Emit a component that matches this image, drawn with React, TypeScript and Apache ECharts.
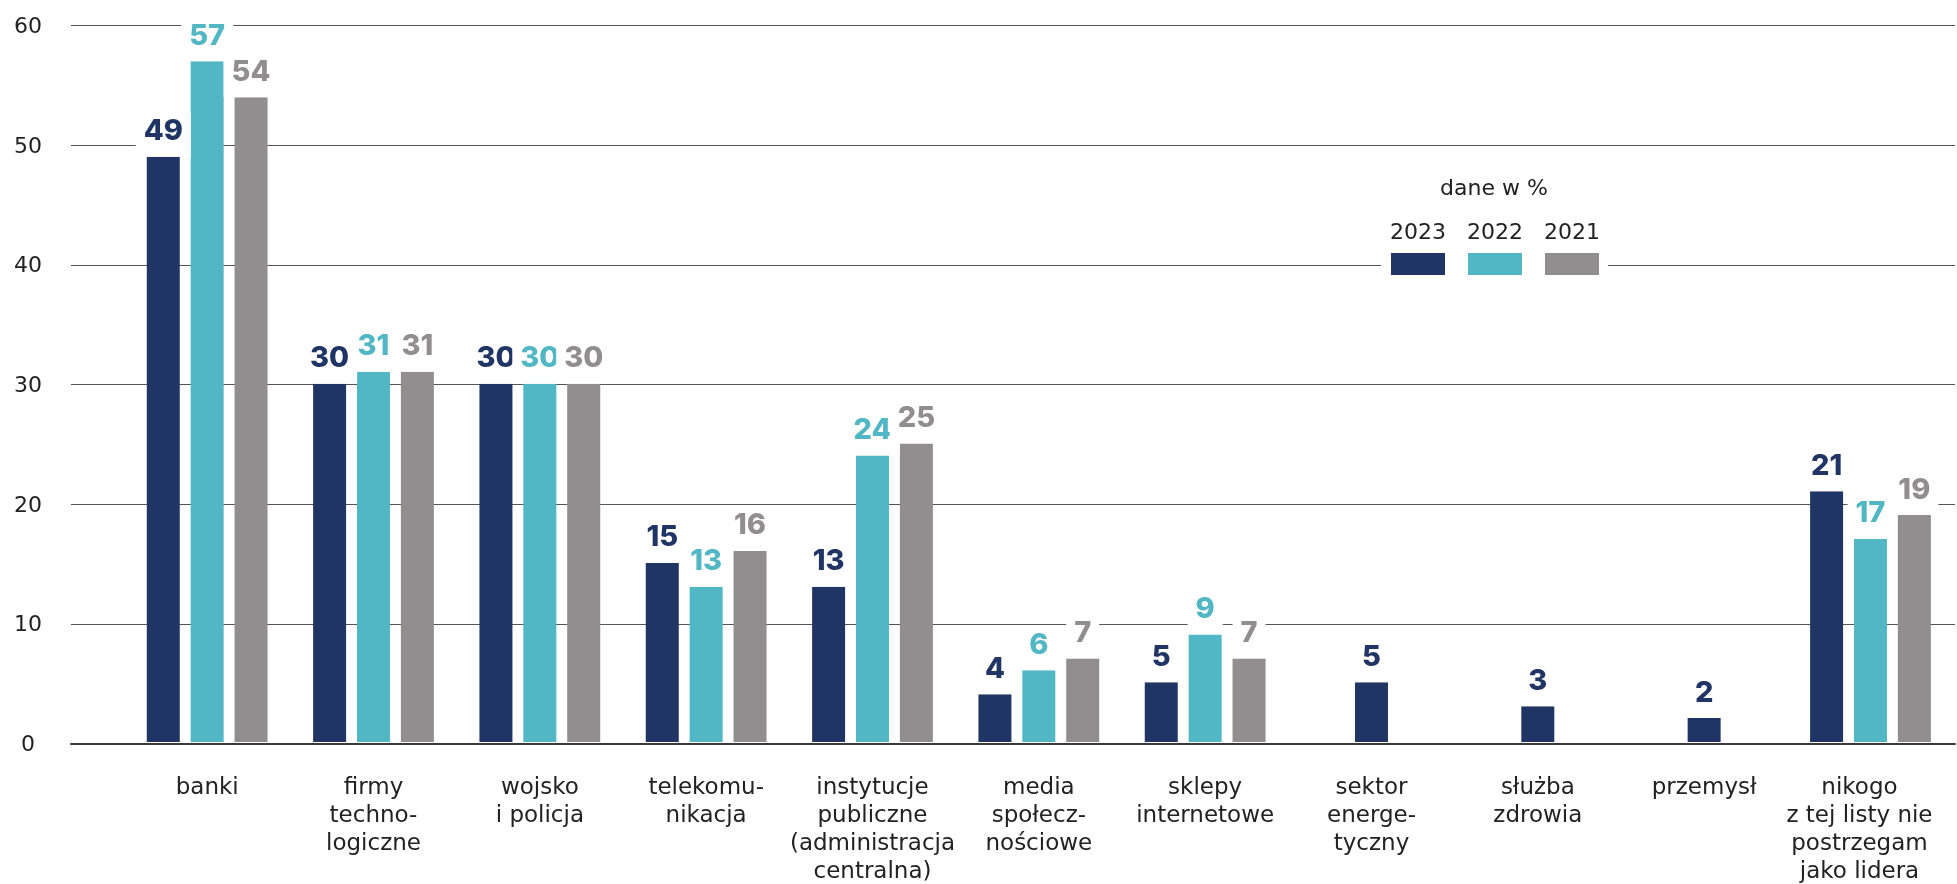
import React, { useEffect, useRef } from "react";
import * as echarts from "echarts";

const categories = [
  "banki",
  "firmy\ntechno-\nlogiczne",
  "wojsko\ni policja",
  "telekomu-\nnikacja",
  "instytucje\npubliczne\n(administracja\ncentralna)",
  "media\nspołecz-\nnościowe",
  "sklepy\ninternetowe",
  "sektor\nenerge-\ntyczny",
  "służba\nzdrowia",
  "przemysł",
  "nikogo\nz tej listy nie\npostrzegam\njako lidera",
];
const v2023 = [49, 30, 30, 15, 13, 4, 5, null, null, null, 21];
const v2023solo = [null, null, null, null, null, null, null, 5, 3, 2, null];
const v2022 = [57, 31, 30, 13, 24, 6, 9, null, null, null, 17];
const v2021 = [54, 31, 30, 16, 25, 7, 7, null, null, null, 19];
const years = ["2023", "2022", "2021"];
const colors = ["#213564", "#52B7C4", "#918E8F"];
const yMin = 0;
const yMax = 60;
const yInterval = 10;
const legendTitle = "dane w %";

const FONT = "'DejaVu Sans', 'Open Sans', sans-serif";
const BOLD_FONT = "Inter, 'Open Sans', sans-serif";

export default function App() {
  const ref = useRef<HTMLDivElement>(null);
  useEffect(() => {
    const chart = echarts.init(ref.current!, null, { renderer: "svg" });
    const mkLabel = (color: string) => ({
      show: true,
      position: "top",
      distance: 0,
      color,
      fontFamily: BOLD_FONT,
      fontWeight: 800,
      fontSize: 29,
      lineHeight: 30,
      backgroundColor: "#ffffff",
      padding: [2, 8, 12, 8],
    });
    const barSeries = (name: string, data: (number | null)[], color: string, xAxisIndex: number) => ({
      type: "bar",
      name,
      data,
      xAxisIndex,
      yAxisIndex: 1,
      barWidth: 33,
      barGap: "33%",
      itemStyle: { color },
      label: mkLabel(color),
    });
    const legendItems: any[] = [];
    years.forEach((y, i) => {
      legendItems.push({
        type: "text",
        x: 1418 + i * 77,
        y: 231,
        z: 101,
        style: { text: y, fill: "#222", font: `22px ${FONT}`, textAlign: "center", textVerticalAlign: "middle" },
      });
      legendItems.push({
        type: "rect",
        x: 1391 + i * 77,
        y: 253,
        z: 101,
        shape: { width: 54, height: 22 },
        style: { fill: colors[i] },
      });
    });
    const catData = categories.map((c, i) =>
      i === categories.length - 1 ? { value: c, textStyle: { padding: [0, 22, 0, 0] } } : c
    );
    chart.setOption({
      animation: false,
      grid: [
        { left: 71, right: 2, top: 25.5, bottom: 140.5 },
        { left: 124, width: 1841, top: 25.5, bottom: 140.5 },
      ],
      xAxis: [
        {
          gridIndex: 0,
          type: "value",
          min: 0,
          max: 1,
          axisLine: { show: true, lineStyle: { color: "#3a3a3a", width: 2 } },
          axisTick: { show: false },
          axisLabel: { show: false },
          splitLine: { show: false },
        },
        {
          gridIndex: 1,
          type: "category",
          data: catData,
          axisLine: { show: false },
          axisTick: { show: false },
          axisLabel: {
            interval: 0,
            margin: 30,
            fontSize: 23,
            lineHeight: 28,
            color: "#222",
            fontFamily: FONT,
            align: "center",
          },
        },
        {
          gridIndex: 1,
          type: "category",
          data: categories,
          show: false,
        },
      ],
      yAxis: [
        {
          gridIndex: 0,
          type: "value",
          min: yMin,
          max: yMax,
          interval: yInterval,
          axisLine: { show: false },
          axisTick: { show: false },
          axisLabel: { fontSize: 22, color: "#222", fontFamily: FONT, align: "center", margin: 43 },
          splitLine: { lineStyle: { color: "#555", width: 1 } },
        },
        {
          gridIndex: 1,
          type: "value",
          min: yMin,
          max: yMax,
          interval: yInterval,
          show: false,
          splitLine: { show: false },
        },
      ],
      series: [
        barSeries(years[0], v2023, colors[0], 1),
        barSeries(years[1], v2022, colors[1], 1),
        barSeries(years[2], v2021, colors[2], 1),
        barSeries(years[0], v2023solo, colors[0], 2),
      ],
      graphic: [
        {
          type: "rect",
          x: 1381,
          y: 160,
          z: 100,
          shape: { width: 227, height: 120 },
          style: { fill: "#ffffff" },
        },
        {
          type: "text",
          x: 1494,
          y: 187,
          z: 101,
          style: { text: legendTitle, fill: "#222", font: `22px ${FONT}`, textAlign: "center", textVerticalAlign: "middle" },
        },
        ...legendItems,
      ],
    });
    return () => chart.dispose();
  }, []);
  return <div ref={ref} style={{ position: "fixed", left: 0, top: 0, width: 1957, height: 884 }} />;
}
